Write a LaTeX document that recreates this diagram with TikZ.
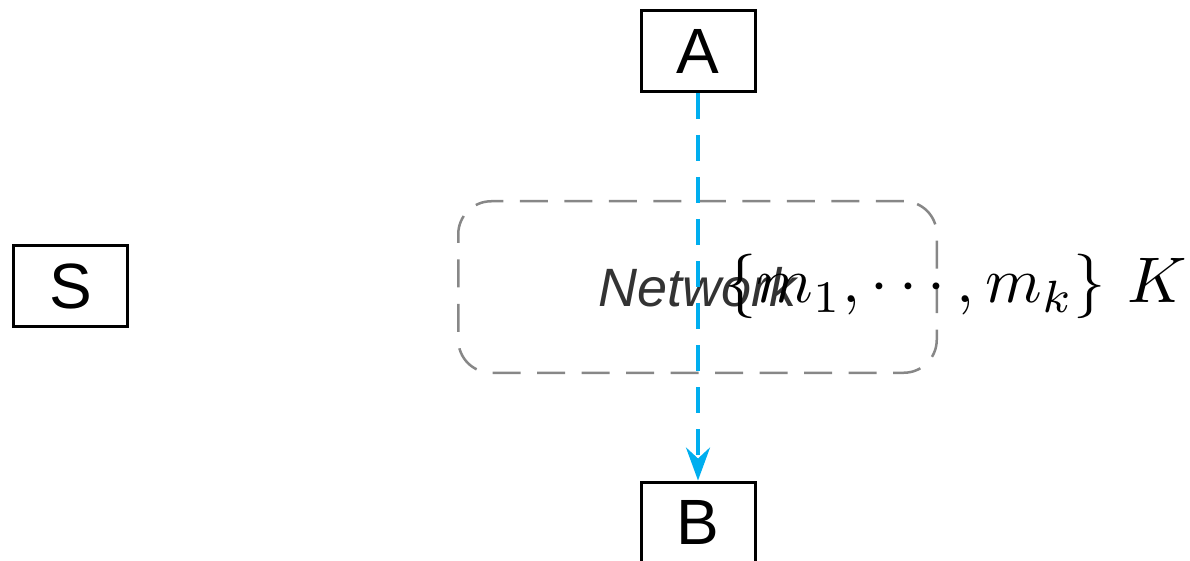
\documentclass[tikz,border=0pt]{standalone}
\usepackage[no-math]{fontspec}
\newfontfamily\helv{Liberation Sans}
\usetikzlibrary{arrows.meta}
\definecolor{linkblue}{HTML}{00AEEF}
\definecolor{netgray}{HTML}{878787}
\definecolor{labelgray}{HTML}{333333}

\begin{document}
\begin{tikzpicture}[x=1pt,y=-1pt,
  party/.style={draw=black, line width=3pt, minimum width=114pt,
    minimum height=81pt, inner sep=0pt,
    font=\helv\fontsize{64}{64}\selectfont},
  netbox/.style={draw=netgray, line width=2.5pt, rounded corners=33pt,
    dash pattern=on 28pt off 16.5pt, minimum width=478.5pt,
    minimum height=171.5pt, inner sep=0pt, text=labelgray,
    font=\helv\itshape\fontsize{54}{54}\selectfont},
  link/.style={draw=linkblue, line width=3.8pt, dash pattern=on 26pt off 16pt,
    -{Stealth[length=33pt,width=24pt,inset=11pt]}},
  msglabel/.style={anchor=base west, inner sep=0pt, scale=6.45}]
\useasboundingbox (0,0) rectangle (1190,561);
\clip (0,0) rectangle (1190,561);

% network cloud with its label
\node[netbox] (N) at (697.5,287) {Network};

% participants
\node[party] (A) at (698,51) {A};
\node[party] (S) at (70.5,286) {S};
\node[party] (B) at (698,522.5) {B};

% message from A to B across the network
\draw[link] (A.south) -- (B.north);

% message set and key
\node[msglabel] (M) at (723,302.5) {$\{m_1,\cdots,m_k\}~K$};
\end{tikzpicture}
\end{document}
